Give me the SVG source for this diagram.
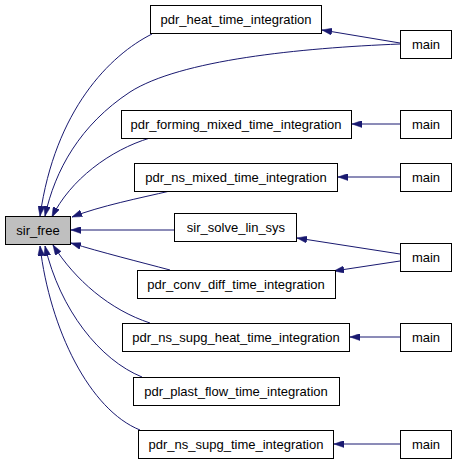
<svg xmlns="http://www.w3.org/2000/svg" width="456" height="464" viewBox="0 0 456 464">
<style>
.n rect{fill:#ffffff;stroke:#000000;stroke-width:1}
.n text{font-family:"Liberation Sans",Arial,sans-serif;font-size:13px;text-anchor:middle;fill:#000000}
#sir_free rect{fill:#bfbfbf}
.e path{fill:none;stroke:#191970;stroke-width:1;marker-end:url(#ah)}
</style>
<defs>
<marker id="ah" viewBox="0 0 10 7" refX="10" refY="3.5" markerWidth="10" markerHeight="7" markerUnits="userSpaceOnUse" orient="auto">
<path d="M0,0 L10,3.5 L0,7 z" fill="#191970" stroke="#191970" stroke-width="0.5"/>
</marker>
</defs>
<rect width="456" height="464" fill="#ffffff"/>
<g class="e" id="edges">
<path d="M152,34 C110,55 55,110 40,216"/>
<path d="M400,44 C300,48 180,60 130,92 C80,125 55,170 45,216"/>
<path d="M400,43 L322,30"/>
<path d="M150,138 C110,150 70,180 52,217"/>
<path d="M170,191 C140,198 100,206 72,217"/>
<path d="M174,230 L71,230"/>
<path d="M170,270 C140,262 100,252 71,243"/>
<path d="M150,323 C110,310 75,280 53,245"/>
<path d="M142,377 C100,360 60,310 45,246"/>
<path d="M140,430 C90,410 50,330 40,246"/>
<path d="M400,124 L352,124"/>
<path d="M400,177 L338,177"/>
<path d="M400,254 L297,238"/>
<path d="M400,261 L334,271"/>
<path d="M400,337 L350,337"/>
<path d="M400,444 L334,444"/>
</g>
<g class="n" id="sir_free"><rect x="5.5" y="216.5" width="65" height="28"/><text x="38" y="235">sir_free</text></g>
<g class="n" id="pdr_heat_time_integration"><rect x="150.5" y="5.5" width="171" height="28"/><text x="236" y="24">pdr_heat_time_integration</text></g>
<g class="n" id="main1"><rect x="400.5" y="30.5" width="51" height="28"/><text x="426" y="49">main</text></g>
<g class="n" id="pdr_forming_mixed_time_integration"><rect x="121.5" y="110.5" width="230" height="28"/><text x="236" y="129">pdr_forming_mixed_time_integration</text></g>
<g class="n" id="main2"><rect x="400.5" y="110.5" width="51" height="28"/><text x="426" y="129">main</text></g>
<g class="n" id="pdr_ns_mixed_time_integration"><rect x="134.5" y="163.5" width="203" height="28"/><text x="236" y="182">pdr_ns_mixed_time_integration</text></g>
<g class="n" id="main3"><rect x="400.5" y="163.5" width="51" height="28"/><text x="426" y="182">main</text></g>
<g class="n" id="sir_solve_lin_sys"><rect x="174.5" y="213.5" width="122" height="28"/><text x="236" y="232">sir_solve_lin_sys</text></g>
<g class="n" id="main4"><rect x="400.5" y="243.5" width="51" height="28"/><text x="426" y="262">main</text></g>
<g class="n" id="pdr_conv_diff_time_integration"><rect x="137.5" y="270.5" width="198" height="28"/><text x="236" y="289">pdr_conv_diff_time_integration</text></g>
<g class="n" id="pdr_ns_supg_heat_time_integration"><rect x="122.5" y="323.5" width="227" height="28"/><text x="236" y="342">pdr_ns_supg_heat_time_integration</text></g>
<g class="n" id="main5"><rect x="400.5" y="323.5" width="51" height="28"/><text x="426" y="342">main</text></g>
<g class="n" id="pdr_plast_flow_time_integration"><rect x="133.5" y="377.5" width="206" height="28"/><text x="236" y="396">pdr_plast_flow_time_integration</text></g>
<g class="n" id="pdr_ns_supg_time_integration"><rect x="138.5" y="430.5" width="195" height="28"/><text x="236" y="449">pdr_ns_supg_time_integration</text></g>
<g class="n" id="main6"><rect x="400.5" y="430.5" width="51" height="28"/><text x="426" y="449">main</text></g>
</svg>
